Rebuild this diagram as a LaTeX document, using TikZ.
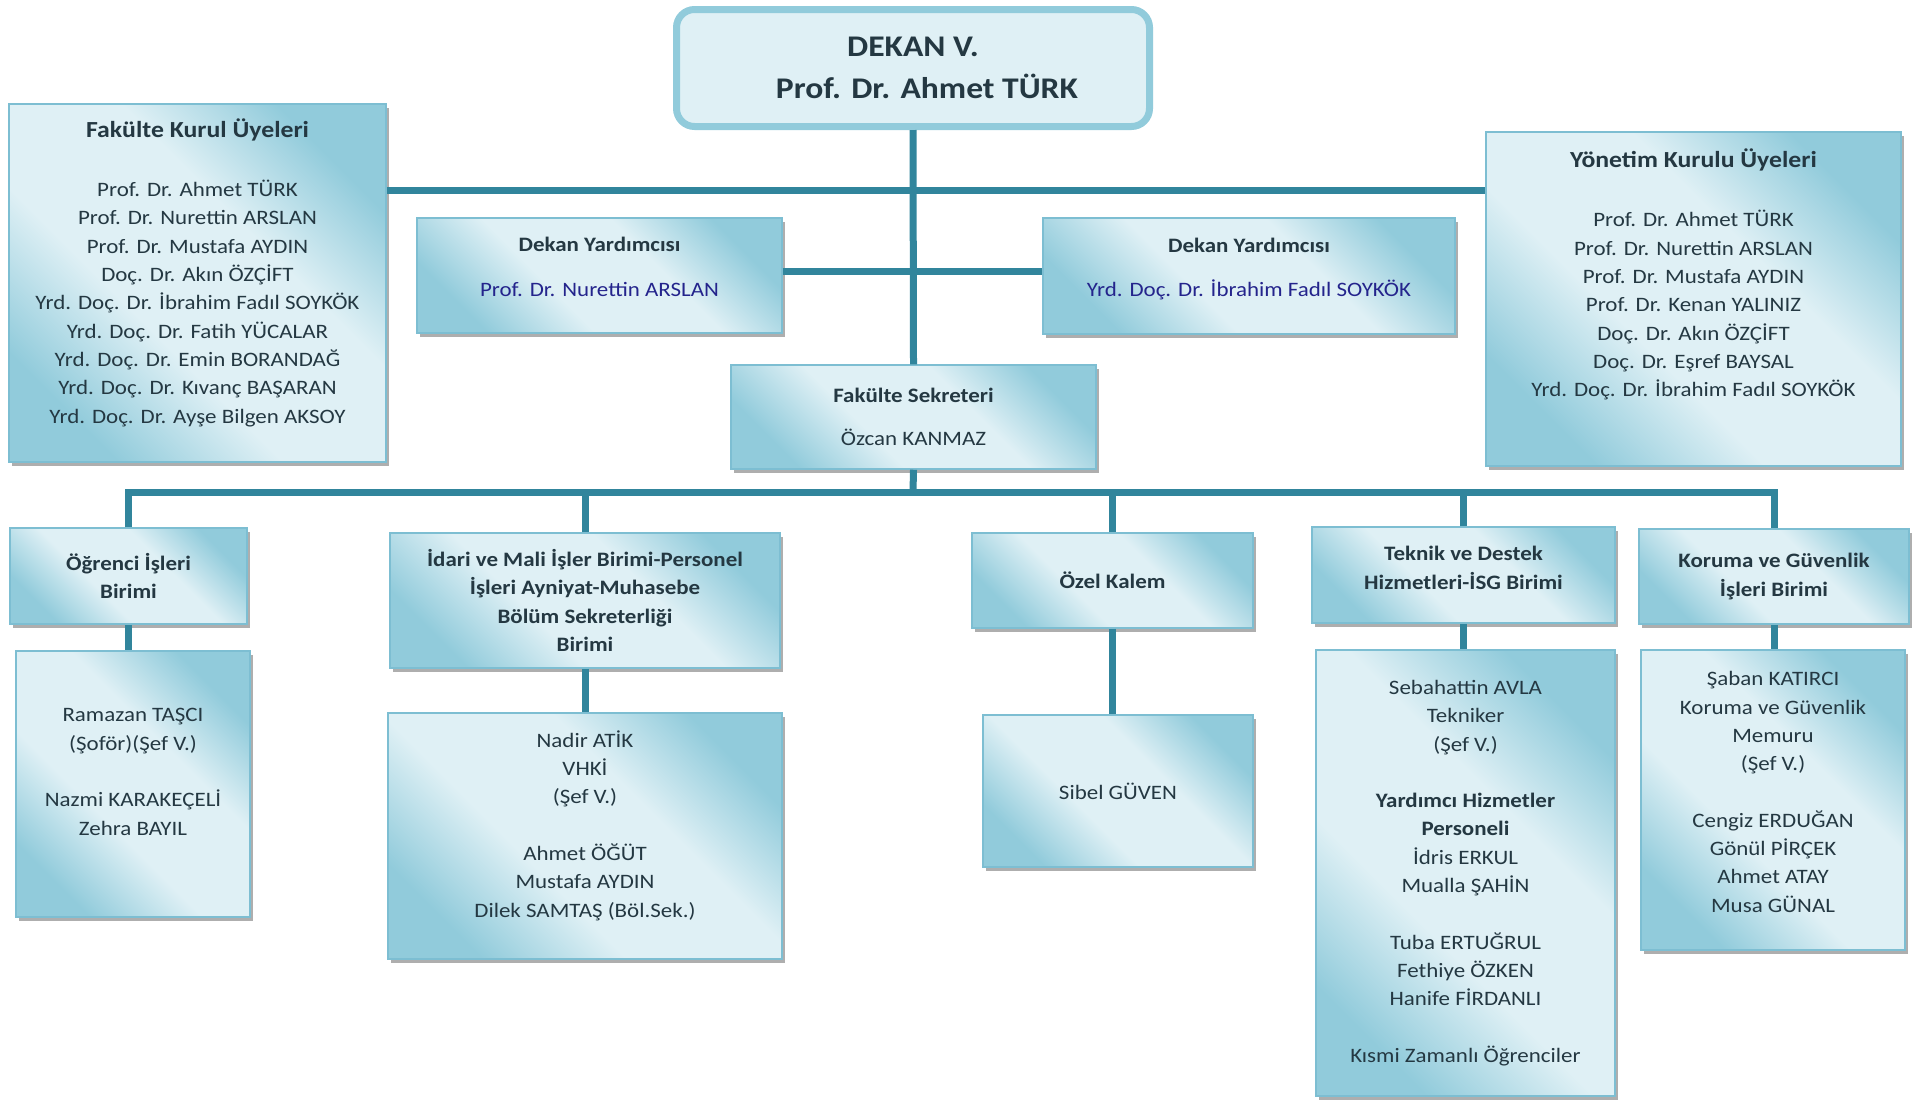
\documentclass[tikz,border=0pt]{standalone}
\usepackage{fontspec}
\setmainfont{Carlito}[FakeStretch=1.12]
\usetikzlibrary{shadows}
\definecolor{aqlight}{RGB}{223,240,245}
\definecolor{aqdark}{RGB}{145,203,219}
\definecolor{aqedge}{RGB}{125,190,210}
\definecolor{aqline}{RGB}{49,133,156}
\definecolor{ink}{RGB}{36,56,66}
\definecolor{navy}{RGB}{36,36,140}
\pgfdeclarehorizontalshading{aqband}{100bp}{color(0bp)=(aqdark); color(25bp)=(aqdark); color(41bp)=(aqlight); color(60bp)=(aqlight); color(75bp)=(aqdark); color(100bp)=(aqdark)}
\tikzset{
  box/.style={draw=aqedge, line width=1.5pt, shading=aqband, shading angle=45,
    drop shadow={shadow xshift=3pt, shadow yshift=-4pt, fill=black!45, opacity=.7},
    align=center, text=ink, font=\fontsize{20.5}{28.3}\selectfont},
  link/.style={aqline, line width=7pt},
}
\newcommand{\hd}[1]{{\bfseries #1}}
\newcommand{\bighd}[1]{{\bfseries\fontsize{23}{28.3}\selectfont #1}}

\begin{document}
\begin{tikzpicture}[x=1pt,y=-1pt]
\useasboundingbox (0,0) rectangle (1921,1101);

\node[draw=aqdark, line width=7pt, fill=aqlight, rounded corners=18pt, minimum width=473pt, minimum height=117pt,
  align=center, text=ink, font=\bfseries\fontsize{30}{42}\selectfont] (dekan) at (913,68) {DEKAN V.\\\hspace*{28pt}Prof. Dr. Ahmet TÜRK};

\node[box, minimum width=377pt, minimum height=358pt] (fkurul) at (197.5,283) {\bighd{Fakülte Kurul Üyeleri}\\[31pt]
  Prof. Dr. Ahmet TÜRK\\Prof. Dr. Nurettin ARSLAN\\Prof. Dr. Mustafa AYDIN\\Doç. Dr. Akın ÖZÇİFT\\
  Yrd. Doç. Dr. İbrahim Fadıl SOYKÖK\\Yrd. Doç. Dr. Fatih YÜCALAR\\Yrd. Doç. Dr. Emin BORANDAĞ\\
  Yrd. Doç. Dr. Kıvanç BAŞARAN\\Yrd. Doç. Dr. Ayşe Bilgen AKSOY\\[-4pt]\mbox{}};
\node[box, minimum width=415pt, minimum height=334pt] (ykurul) at (1693.5,299) {\bighd{Yönetim Kurulu Üyeleri}\\[31pt]
  Prof. Dr. Ahmet TÜRK\\Prof. Dr. Nurettin ARSLAN\\Prof. Dr. Mustafa AYDIN\\Prof. Dr. Kenan YALINIZ\\
  Doç. Dr. Akın ÖZÇİFT\\Doç. Dr. Eşref BAYSAL\\Yrd. Doç. Dr. İbrahim Fadıl SOYKÖK\\[24pt]\mbox{}};

\node[box, minimum width=365pt, minimum height=115pt] (dyl) at (599.5,275.5) {\hd{Dekan Yardımcısı}\\[16pt]\textcolor{navy}{Prof. Dr. Nurettin ARSLAN}\\[-11pt]\mbox{}};
\node[box, minimum width=412pt, minimum height=116pt] (dyr) at (1249,276) {\hd{Dekan Yardımcısı}\\[16pt]\textcolor{navy}{Yrd. Doç. Dr. İbrahim Fadıl SOYKÖK}\\[-11pt]\mbox{}};
\node[box, minimum width=365pt, minimum height=104pt] (sek) at (913.5,417) {\hd{Fakülte Sekreteri}\\[14pt]Özcan KANMAZ};

\node[box, minimum width=237pt, minimum height=96pt] (ogr) at (128.5,576) {\hd{Öğrenci İşleri}\\\hd{Birimi}};
\node[box, minimum width=234pt, minimum height=266pt] (ogrp) at (133,784) {Ramazan TAŞCI\\(Şoför)(Şef V.)\\[28.3pt]Nazmi KARAKEÇELİ\\Zehra BAYIL\\[-4pt]\mbox{}};
\node[box, minimum width=390pt, minimum height=135pt] (idari) at (585,600.5) {\hd{İdari ve Mali İşler Birimi-Personel}\\\hd{İşleri Ayniyat-Muhasebe}\\\hd{Bölüm Sekreterliği}\\\hd{Birimi}};
\node[box, minimum width=394pt, minimum height=246pt] (idarip) at (585,836) {Nadir ATİK\\VHKİ\\(Şef V.)\\[28.3pt]Ahmet ÖĞÜT\\Mustafa AYDIN\\Dilek SAMTAŞ (Böl.Sek.)\\[-4pt]\mbox{}};
\node[box, minimum width=281pt, minimum height=95pt] (ozel) at (1112.5,580.5) {\hd{Özel Kalem}};
\node[box, minimum width=270pt, minimum height=152pt] (ozelp) at (1118,791) {Sibel GÜVEN};
\node[box, minimum width=303pt, minimum height=96pt] (teknik) at (1463.5,575) {\hd{Teknik ve Destek}\\\hd{Hizmetleri-İSG Birimi}\\[-14pt]\mbox{}};
\node[box, minimum width=299pt, minimum height=446pt] (teknikp) at (1465.5,873) {Sebahattin AVLA\\Tekniker\\(Şef V.)\\[28.3pt]
  \hd{Yardımcı Hizmetler}\\\hd{Personeli}\\İdris ERKUL\\Mualla ŞAHİN\\[28.3pt]
  Tuba ERTUĞRUL\\Fethiye ÖZKEN\\Hanife FİRDANLI\\[28.3pt]Kısmi Zamanlı Öğrenciler};
\node[box, minimum width=270pt, minimum height=95pt] (koruma) at (1774,576.5) {\hd{Koruma ve Güvenlik}\\\hd{İşleri Birimi}};
\node[box, minimum width=264pt, minimum height=300pt] (korumap) at (1773,800) {Şaban KATIRCI\\Koruma ve Güvenlik\\Memuru\\(Şef V.)\\[28.3pt]
  Cengiz ERDUĞAN\\Gönül PİRÇEK\\Ahmet ATAY\\Musa GÜNAL\\[-12pt]\mbox{}};

\coordinate (top) at (913,190);
\coordinate (mid) at (913,271);
\coordinate (bus) at (913,492);
\draw[link] (fkurul.east |- top) -- (ykurul.west |- top);
\draw[link] (dekan.south) -- (sek.north);
\draw[link] (dyl.east |- mid) -- (dyr.west |- mid);
\draw[link] (sek.south) -- (bus);
\draw[link] (ogr.north) |- (bus) -| (koruma.north);
\foreach \n in {idari,ozel,teknik}
  \draw[link] (\n.north) -- (\n.north |- bus);
\foreach \a/\b in {ogr/ogrp,idari/idarip,ozel/ozelp,teknik/teknikp,koruma/korumap}
  \draw[link] (\a.south) -- (\a.south |- \b.north);

\end{tikzpicture}
\end{document}
